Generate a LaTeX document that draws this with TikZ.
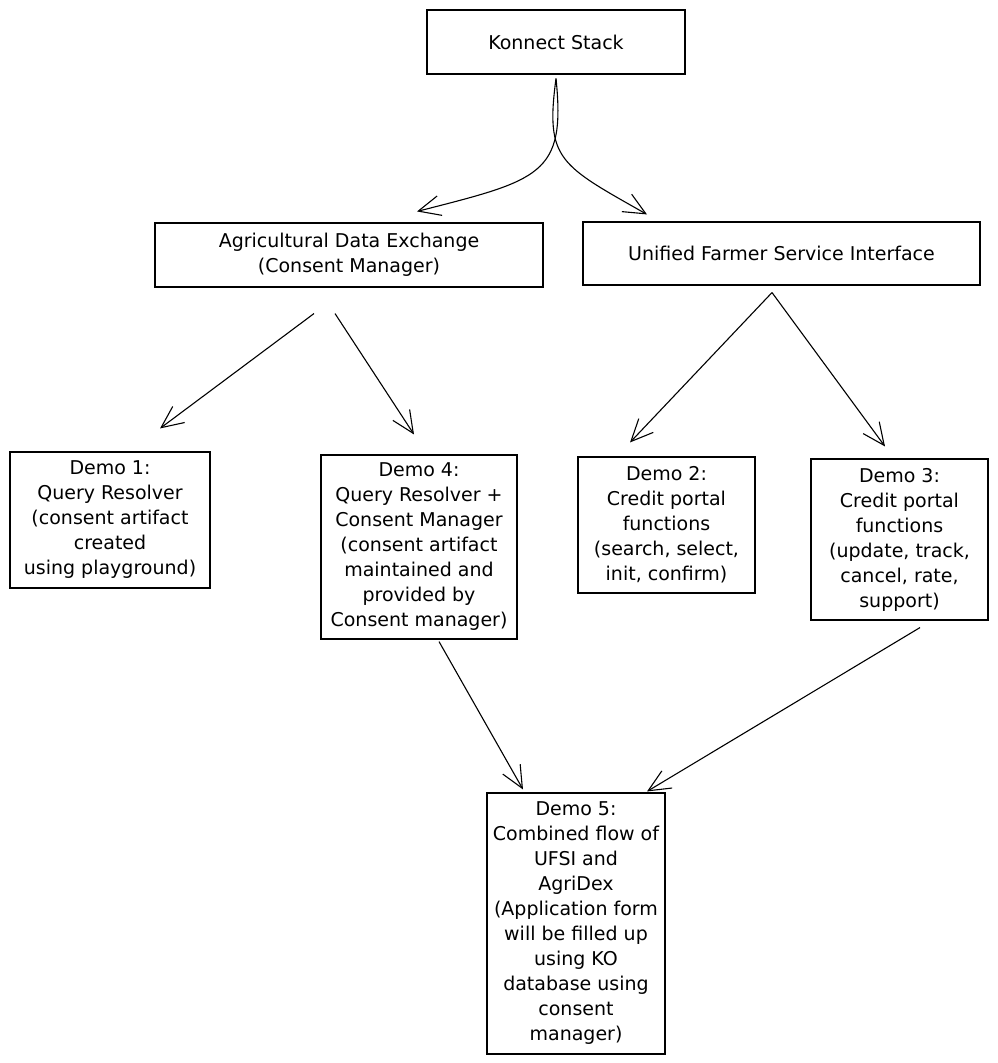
\documentclass[tikz,border=0pt]{standalone}
\usepackage{fontspec}
\setmainfont{DejaVu Sans}
\usetikzlibrary{arrows.meta,calc}
\begin{document}
\begin{tikzpicture}[x=1pt,y=-1pt,
  box/.style={draw=black, line width=1.1pt, fill=white, inner sep=0pt, align=center,
    font=\fontsize{19}{25}\selectfont},
  arr/.style={draw=black, line width=1.1pt, -{Straight Barb[length=22pt,width=20pt,line width=1.1pt]}}]
\useasboundingbox (0,0) rectangle (997,1063);
\fill[white] (0,0) rectangle (997,1063);

\node[box, minimum width=258pt, minimum height=64pt] (k) at (556,42) {Konnect Stack};
\node[box, minimum width=388pt, minimum height=64pt] (agri) at (349,255) {Agricultural Data Exchange\\(Consent Manager)};
\node[box, minimum width=397pt, minimum height=63pt] (ufsi) at (781.5,253.5) {Unified Farmer Service Interface};

\node[box, minimum width=200pt, minimum height=136pt] (d1) at (110,520) {Demo 1:\\Query Resolver\\(consent artifact\\created\\using playground)};
\node[box, minimum width=196pt, minimum height=184pt] (d4) at (419,547) {Demo 4:\\Query Resolver +\\Consent Manager\\(consent artifact\\maintained and\\provided by\\Consent manager)};
\node[box, minimum width=177pt, minimum height=136pt] (d2) at (666.5,525) {Demo 2:\\Credit portal\\functions\\(search, select,\\init, confirm)};
\node[box, minimum width=177pt, minimum height=161pt] (d3) at (899.5,539.5) {Demo 3:\\Credit portal\\functions\\(update, track,\\cancel, rate,\\support)};
\node[box, minimum width=178pt, minimum height=261pt] (d5) at (576,923.5) {Demo 5:\\Combined flow of\\UFSI and\\AgriDex\\(Application form\\will be filled up\\using KO\\database using\\consent\\manager)};

% Konnect Stack to the two platforms
\draw[arr] ($(k.south)+(0,4)$) .. controls (566,175) and (540,180) .. ($(agri.north)+(68,-11)$);
\draw[arr] ($(k.south)+(0,4)$) .. controls (545,160) and (560,165) .. ($(ufsi.north)+(-134.5,-7)$);

% Agricultural Data Exchange
\draw[arr] ($(agri.south)+(-35,26)$) -- ($(d1.north)+(50,-23)$);
\draw[arr] ($(agri.south)+(-14,26)$) -- ($(d4.north)+(-5,-20)$);

% Unified Farmer Service Interface
\draw[arr] ($(ufsi.south)+(-9.5,7)$) -- ($(d2.north)+(-36.5,-14)$);
\draw[arr] ($(ufsi.south)+(-9.5,7)$) -- ($(d3.north)+(-14.5,-12)$);

% To Demo 5
\draw[arr] ($(d4.south)+(20,2)$) -- ($(d5.north)+(-53,-3)$);
\draw[arr] ($(d3.south)+(20.5,7)$) -- ($(d5.north)+(71,-1)$);
\end{tikzpicture}
\end{document}
